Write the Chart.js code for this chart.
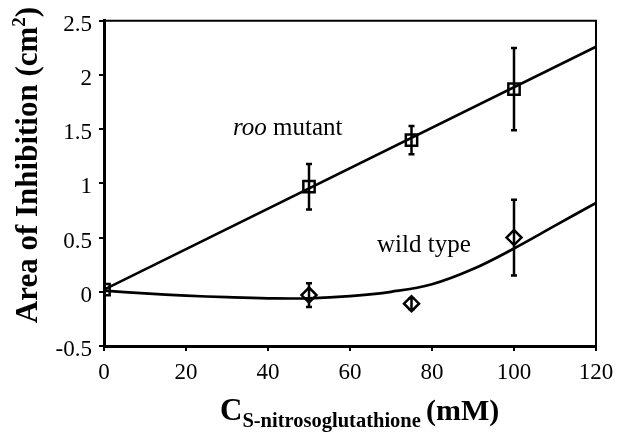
<!DOCTYPE html>
<html>
<head>
<meta charset="utf-8">
<script src="https://cdn.jsdelivr.net/npm/chart.js@4.4.0/dist/chart.umd.min.js"></script>
<style>
  html, body { margin: 0; padding: 0; background: #fff; }
  #wrap { width: 622px; height: 432px; }
</style>
</head>
<body>
<div id="wrap"><canvas id="chart" width="622" height="432"></canvas></div>
<script>
// measured points (x = concentration, mM)
const concX = [0, 50, 75, 100];
const mutantY = [0.02, 0.97, 1.40, 1.87];
const mutantErr = [0, 0.21, 0.13, 0.38];
const wildY = [0.02, -0.03, -0.11, 0.50];
const wildErr = [0, 0.11, 0.05, 0.35];

// fitted curves
const mutantFitX = [0, 120];
const mutantFitY = [0.02, 2.26];
const wildFitX = [0, 10, 20, 30, 40, 50, 60, 70, 80, 90, 100, 110, 120];
const wildFitY = [0.01, -0.015, -0.035, -0.05, -0.06, -0.06, -0.04, 0.0, 0.07, 0.21, 0.40, 0.61, 0.82];

const xTicks = [0, 20, 40, 60, 80, 100, 120];
const yTicks = [-0.5, 0, 0.5, 1, 1.5, 2, 2.5];
const yTickLabels = ["-0.5", "0", "0.5", "1", "1.5", "2", "2.5"];

function pairs(xs, ys) {
  return xs.map((x, i) => ({ x: x, y: ys[i] }));
}

// error bars + frame + text labels
const extras = {
  id: "extras",
  beforeDatasetsDraw(chart) {
    const ctx = chart.ctx;
    const xs = chart.scales.x, ys = chart.scales.y;
    const sets = [[mutantY, mutantErr], [wildY, wildErr]];
    ctx.save();
    ctx.strokeStyle = "#000";
    ctx.lineWidth = 2.5;
    sets.forEach(([vals, errs]) => {
      vals.forEach((v, i) => {
        if (!errs[i]) return;
        const px = xs.getPixelForValue(concX[i]);
        const top = ys.getPixelForValue(v + errs[i]);
        const bot = ys.getPixelForValue(v - errs[i]);
        ctx.beginPath();
        ctx.moveTo(px, top); ctx.lineTo(px, bot);
        ctx.moveTo(px - 3, top); ctx.lineTo(px + 3, top);
        ctx.moveTo(px - 3, bot); ctx.lineTo(px + 3, bot);
        ctx.stroke();
      });
    });
    ctx.restore();
  },
  afterDraw(chart) {
    const ctx = chart.ctx;
    const a = chart.chartArea;
    ctx.save();
    // top and right frame
    ctx.strokeStyle = "#000";
    ctx.lineWidth = 2;
    ctx.beginPath();
    ctx.moveTo(a.left, a.top);
    ctx.lineTo(a.right, a.top);
    ctx.lineTo(a.right, a.bottom);
    ctx.stroke();

    ctx.fillStyle = "#000";
    ctx.textBaseline = "alphabetic";
    ctx.textAlign = "left";

    // annotations
    ctx.font = "italic 25px 'Liberation Serif'";
    ctx.fillText("roo", 233, 135);
    let w = ctx.measureText("roo ").width;
    ctx.font = "25px 'Liberation Serif'";
    ctx.fillText("mutant", 233 + w, 135);
    ctx.fillText("wild type", 377, 252);

    // x axis title with subscript
    let x = 220;
    ctx.font = "bold 31px 'Liberation Serif'";
    ctx.fillText("C", x, 420);
    x += ctx.measureText("C").width;
    ctx.font = "bold 20.5px 'Liberation Serif'";
    ctx.fillText("S-nitrosoglutathione", x, 427);
    x += ctx.measureText("S-nitrosoglutathione ").width;
    ctx.font = "bold 30px 'Liberation Serif'";
    ctx.fillText("(mM)", x, 420);

    // y axis title with superscript
    ctx.translate(37, 165);
    ctx.rotate(-Math.PI / 2);
    ctx.font = "bold 31px 'Liberation Serif'";
    const main = "Area of Inhibition (cm";
    const mw = ctx.measureText(main).width;
    ctx.font = "bold 19px 'Liberation Serif'";
    const sw = ctx.measureText("2").width;
    ctx.font = "bold 31px 'Liberation Serif'";
    const cw = ctx.measureText(")").width;
    let sx = -(mw + sw + cw) / 2;
    ctx.fillText(main, sx, 0);
    sx += mw;
    ctx.font = "bold 19px 'Liberation Serif'";
    ctx.fillText("2", sx, -12);
    sx += sw;
    ctx.font = "bold 31px 'Liberation Serif'";
    ctx.fillText(")", sx, 0);
    ctx.restore();
  }
};

const tickFont = { family: "'Liberation Serif'", size: 23 };

new Chart(document.getElementById("chart"), {
  type: "scatter",
  data: {
    datasets: [
      {
        label: "roo mutant fit",
        data: pairs(mutantFitX, mutantFitY),
        showLine: true,
        borderColor: "#000",
        borderWidth: 2.7,
        pointRadius: 0,
      },
      {
        label: "wild type fit",
        data: pairs(wildFitX, wildFitY),
        showLine: true,
        borderColor: "#000",
        borderWidth: 2.7,
        pointRadius: 0,
        tension: 0.4,
      },
      {
        label: "roo mutant",
        data: pairs(concX, mutantY),
        pointStyle: "rect",
        pointRadius: 8,
        pointBorderWidth: 2.5,
        pointBorderColor: "#000",
        pointBackgroundColor: "rgba(0,0,0,0)",
      },
      {
        label: "wild type",
        data: pairs(concX.slice(1), wildY.slice(1)),
        pointStyle: "rectRot",
        pointRadius: 7.5,
        pointBorderWidth: 2.5,
        pointBorderColor: "#000",
        pointBackgroundColor: "rgba(0,0,0,0)",
      },
    ],
  },
  options: {
    responsive: false,
    animation: false,
    layout: { padding: { top: 17, right: 26, left: 0, bottom: 0 } },
    plugins: {
      legend: { display: false },
      tooltip: { enabled: false },
    },
    scales: {
      x: {
        type: "linear",
        min: 0,
        max: 120,
        afterBuildTicks(scale) {
          scale.ticks = xTicks.map((v) => ({ value: v }));
        },
        afterFit(scale) {
          scale.height = 86;
        },
        grid: { drawOnChartArea: false, drawTicks: true, tickLength: 5, color: "#000", lineWidth: 2 },
        border: { display: true, color: "#000", width: 3 },
        ticks: { color: "#000", font: tickFont, padding: 8, maxRotation: 0 },
      },
      y: {
        type: "linear",
        min: -0.5,
        max: 2.5,
        afterBuildTicks(scale) {
          scale.ticks = yTicks.map((v) => ({ value: v }));
        },
        afterFit(scale) {
          scale.width = 104;
        },
        grid: { drawOnChartArea: false, drawTicks: true, tickLength: 5, color: "#000", lineWidth: 2 },
        border: { display: true, color: "#000", width: 3 },
        ticks: {
          color: "#000",
          font: tickFont,
          padding: 7,
          labelOffset: 4,
          callback: (v, i) => yTickLabels[i],
        },
      },
    },
  },
  plugins: [extras],
});
</script>
</body>
</html>
